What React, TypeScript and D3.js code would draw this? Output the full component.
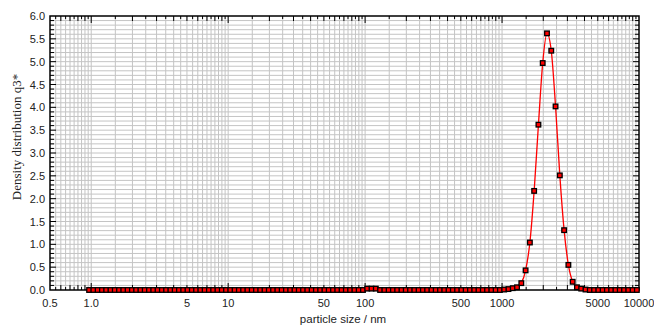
import React from "react";
import * as d3 from "d3";

// size classes: 32 per decade (geometric), one class below 1 nm
const leadSize = [0.9647];
const mantissas = [
  1.0366, 1.114, 1.1971, 1.2864, 1.3824, 1.4855, 1.5963, 1.7154,
  1.8434, 1.9809, 2.1287, 2.2875, 2.4582, 2.6416, 2.8387, 3.0505,
  3.2781, 3.5227, 3.7855, 4.068, 4.3715, 4.6977, 5.0482, 5.4248,
  5.8296, 6.2645, 6.7319, 7.2342, 7.774, 8.354, 8.9773, 9.6471,
];
const decades = [1, 10, 100, 1000];

// density q3*, one list per decade
const densityLead = [0];
const density1to10 = [
  0, 0, 0, 0, 0, 0, 0, 0, 0, 0, 0, 0, 0, 0, 0, 0,
  0, 0, 0, 0, 0, 0, 0, 0, 0, 0, 0, 0, 0, 0, 0, 0,
];
const density10to100 = [
  0, 0, 0, 0, 0, 0, 0, 0, 0, 0, 0, 0, 0, 0, 0, 0,
  0, 0, 0, 0, 0, 0, 0, 0, 0, 0, 0, 0, 0, 0, 0, 0,
];
const density100to1000 = [
  0.03, 0.03, 0.03, 0, 0, 0, 0, 0, 0, 0, 0, 0, 0, 0, 0, 0,
  0, 0, 0, 0, 0, 0, 0, 0, 0, 0, 0, 0, 0, 0, 0, 0,
];
const density1000to10000 = [
  0.01, 0.02, 0.04, 0.06, 0.15, 0.43, 1.04, 2.17, 3.62, 4.97, 5.62, 5.24, 4.02, 2.51, 1.31, 0.55,
  0.18, 0.06, 0.03, 0.01, 0, 0, 0, 0, 0, 0, 0, 0, 0, 0, 0, 0,
];

const xTickValues = [0.5, 1, 5, 10, 50, 100, 500, 1000, 5000, 10000];
const xTickLabels = ["0.5", "1.0", "5", "10", "50", "100", "500", "1000", "5000", "10000"];
const yTickValues = [0, 0.5, 1, 1.5, 2, 2.5, 3, 3.5, 4, 4.5, 5, 5.5, 6];
const yTickLabels = ["0.0", "0.5", "1.0", "1.5", "2.0", "2.5", "3.0", "3.5", "4.0", "4.5", "5.0", "5.5", "6.0"];

const width = 654;
const height = 325;
const margin = { top: 16, right: 15, bottom: 35, left: 50 };

export default function App() {
  const sizes = [...leadSize, ...decades.flatMap((d) => mantissas.map((m) => m * d))];
  const density = [
    ...densityLead,
    ...density1to10,
    ...density10to100,
    ...density100to1000,
    ...density1000to10000,
  ];
  const data = sizes.map((s, i) => ({ size: s, q: density[i] }));

  const x = d3.scaleLog().domain([0.5, 10000]).range([margin.left, width - margin.right]);
  const y = d3.scaleLinear().domain([0, 6]).range([height - margin.bottom, margin.top]);

  const x0 = x.range()[0];
  const x1 = x.range()[1];
  const y0 = y.range()[0];
  const y1 = y.range()[1];

  // grid every half unit of each decade
  const gridX: number[] = [];
  [0.1, 1, 10, 100, 1000].forEach((d) => {
    d3.range(1, 10, 0.5).forEach((m) => {
      const v = m * d;
      if (v > 0.5 && v < 10000) gridX.push(v);
    });
  });
  const gridY = d3.range(1, 60).map((i) => i / 10);

  const line = d3
    .line<{ size: number; q: number }>()
    .x((d) => x(d.size))
    .y((d) => y(d.q))
    .curve(d3.curveMonotoneX);

  const isDecade = (v: number) => Math.abs(Math.log10(v) - Math.round(Math.log10(v))) < 1e-6;
  const isInt = (v: number) => {
    const p = Math.pow(10, Math.floor(Math.log10(v) + 1e-9));
    return Math.abs(v / p - Math.round(v / p)) < 1e-6;
  };

  return (
    <svg
      width={width}
      height={height}
      style={{ position: "absolute", left: 0, top: 0, background: "#fff" }}
    >
      <g stroke="#c4c4c4" strokeWidth={1}>
        {gridX.map((v, i) => (
          <line key={"gx" + i} x1={x(v)} x2={x(v)} y1={y1} y2={y0} />
        ))}
        {gridY.map((v, i) => (
          <line key={"gy" + i} x1={x0} x2={x1} y1={y(v)} y2={y(v)} />
        ))}
      </g>

      <g stroke="#000" strokeWidth={1}>
        {gridX.map((v, i) => {
          const len = isDecade(v) ? 7 : isInt(v) ? 5 : 3;
          return (
            <g key={"tx" + i}>
              <line x1={x(v)} x2={x(v)} y1={y0} y2={y0 - len} />
              <line x1={x(v)} x2={x(v)} y1={y1} y2={y1 + len} />
            </g>
          );
        })}
        {gridY.map((v, i) => {
          const len = Math.round(v * 10) % 5 === 0 ? 6 : 4;
          return (
            <g key={"ty" + i}>
              <line x1={x0} x2={x0 + len} y1={y(v)} y2={y(v)} />
              <line x1={x1} x2={x1 - len} y1={y(v)} y2={y(v)} />
            </g>
          );
        })}
      </g>

      <rect
        x={x0}
        y={y1}
        width={x1 - x0}
        height={y0 - y1}
        fill="none"
        stroke="#000"
        strokeWidth={1.5}
      />

      <path d={line(data) ?? ""} fill="none" stroke="#ff0000" strokeWidth={1.3} />

      <g fill="#ff0000" stroke="#000" strokeWidth={1.3}>
        {data.map((d, i) => (
          <rect key={"m" + i} x={x(d.size) - 2.3} y={y(d.q) - 2.3} width={4.6} height={4.6} />
        ))}
      </g>

      <g fontFamily="'Liberation Sans', Arial, sans-serif" fontSize={11} fill="#222">
        {xTickValues.map((v, i) => (
          <text key={"xl" + i} x={x(v)} y={307} textAnchor="middle">
            {xTickLabels[i]}
          </text>
        ))}
        {yTickValues.map((v, i) => (
          <text key={"yl" + i} x={45} y={y(v) + 4} textAnchor="end">
            {yTickLabels[i]}
          </text>
        ))}
      </g>

      <text
        x={343}
        y={323}
        textAnchor="middle"
        fontFamily="'Liberation Sans', Arial, sans-serif"
        fontSize={11.5}
        fill="#222"
      >
        particle size / nm
      </text>
      <text
        transform="translate(21, 137) rotate(-90)"
        textAnchor="middle"
        fontFamily="'Liberation Serif', 'Times New Roman', serif"
        fontSize={13}
        fill="#222"
      >
        Density distribution q3*
      </text>
    </svg>
  );
}
